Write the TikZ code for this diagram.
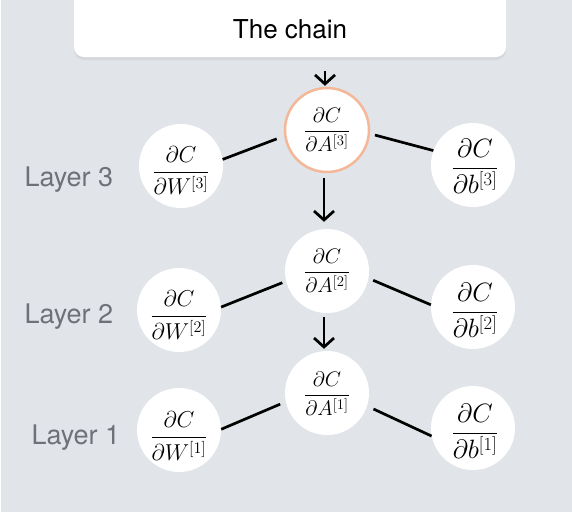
\RequirePackage{fix-cm}
\documentclass[tikz,border=0pt]{standalone}
\usepackage{fontspec}
\setmainfont{TeX Gyre Heros}
\usepackage{amsmath}
\usetikzlibrary{arrows.meta,shadows}
\definecolor{bgc}{HTML}{E1E4E8}
\definecolor{labc}{HTML}{6E7278}
\definecolor{orc}{HTML}{F4B797}
\begin{document}
\begin{tikzpicture}[x=1pt,y=-1pt,
  circ/.style={circle,fill=white,minimum size=84pt,inner sep=0pt},
  fracA/.style={font=\fontsize{21}{25}\selectfont},
  fracW/.style={font=\fontsize{23}{27}\selectfont},
  fracB/.style={font=\fontsize{26.5}{31}\selectfont},
  layerlab/.style={anchor=base west,text=labc,font=\fontsize{27}{31}\selectfont},
  link/.style={line width=2.7pt},
  arr/.style={line width=2.7pt,-{Straight Barb[length=9pt,width=20pt]}}]
\useasboundingbox (0,0) rectangle (572,515);
\fill[white] (0,0) rectangle (572,515);
\fill[bgc] (1,0) rectangle (572,512);
% title
\node[draw=none,fill=white,rounded corners=10pt,minimum width=432pt,minimum height=70pt,
  drop shadow={opacity=0.12,shadow xshift=0pt,shadow yshift=-3pt}] (title) at (290,22) {};
\node[anchor=base,font=\fontsize{26}{30}\selectfont] (titletext) at (290,38) {The chain};
% circles
\node[circ,draw=orc,line width=2.5pt] (A3) at (327,130) {};
\node[circ] (A2) at (327,271) {};
\node[circ] (A1) at (327,393) {};
\node[circ] (W3) at (181,166) {};
\node[circ] (W2) at (179,310) {};
\node[circ] (W1) at (179,430) {};
\node[circ] (b3) at (473,165) {};
\node[circ] (b2) at (473,307) {};
\node[circ] (b1) at (473,428) {};
% fractions
\node[fracA] (A3t) at (327,130) {$\dfrac{\partial C}{\partial A^{[3]}}$};
\node[fracA] (A2t) at (327,271) {$\dfrac{\partial C}{\partial A^{[2]}}$};
\node[fracA] (A1t) at (327,394) {$\dfrac{\partial C}{\partial A^{[1]}}$};
\node[fracW] (W3t) at (181,171) {$\dfrac{\partial C}{\partial W^{[3]}}$};
\node[fracW] (W2t) at (179,315) {$\dfrac{\partial C}{\partial W^{[2]}}$};
\node[fracW] (W1t) at (179,436) {$\dfrac{\partial C}{\partial W^{[1]}}$};
\node[fracB] (b3t) at (475,166) {$\dfrac{\partial C}{\partial b^{[3]}}$};
\node[fracB] (b2t) at (475,310) {$\dfrac{\partial C}{\partial b^{[2]}}$};
\node[fracB] (b1t) at (475,431) {$\dfrac{\partial C}{\partial b^{[1]}}$};
% layer labels
\node[layerlab] (L3) at (21,186) {Layer 3};
\node[layerlab] (L2) at (21,323) {Layer 2};
\node[layerlab] (L1) at (28,444) {Layer 1};
% links
\draw[link,shorten <=8pt] (A3.188) -- (W3.9);
\draw[link,shorten <=5pt] (A3.-5) -- (b3.160);
\draw[link,shorten <=4pt] (A2.194) -- (W2.4);
\draw[link,shorten <=5pt] (A2.-10) -- (b2.177);
\draw[link,shorten <=6pt] (A1.192) -- (W1.1);
\draw[link,shorten <=7pt] (A1.-18) -- (b1.191);
% arrows
\coordinate (top) at (325,71);
\draw[arr,shorten >=1pt] (top) -- (A3.north -| top);
\draw[arr,shorten <=5pt,shorten >=7pt] ([xshift=-3pt]A3.south) -- ([xshift=-3pt]A2.north);
\draw[arr,shorten <=4pt,shorten >=2pt] ([xshift=-3pt]A2.south) -- ([xshift=-3pt]A1.north);
\end{tikzpicture}
\end{document}
